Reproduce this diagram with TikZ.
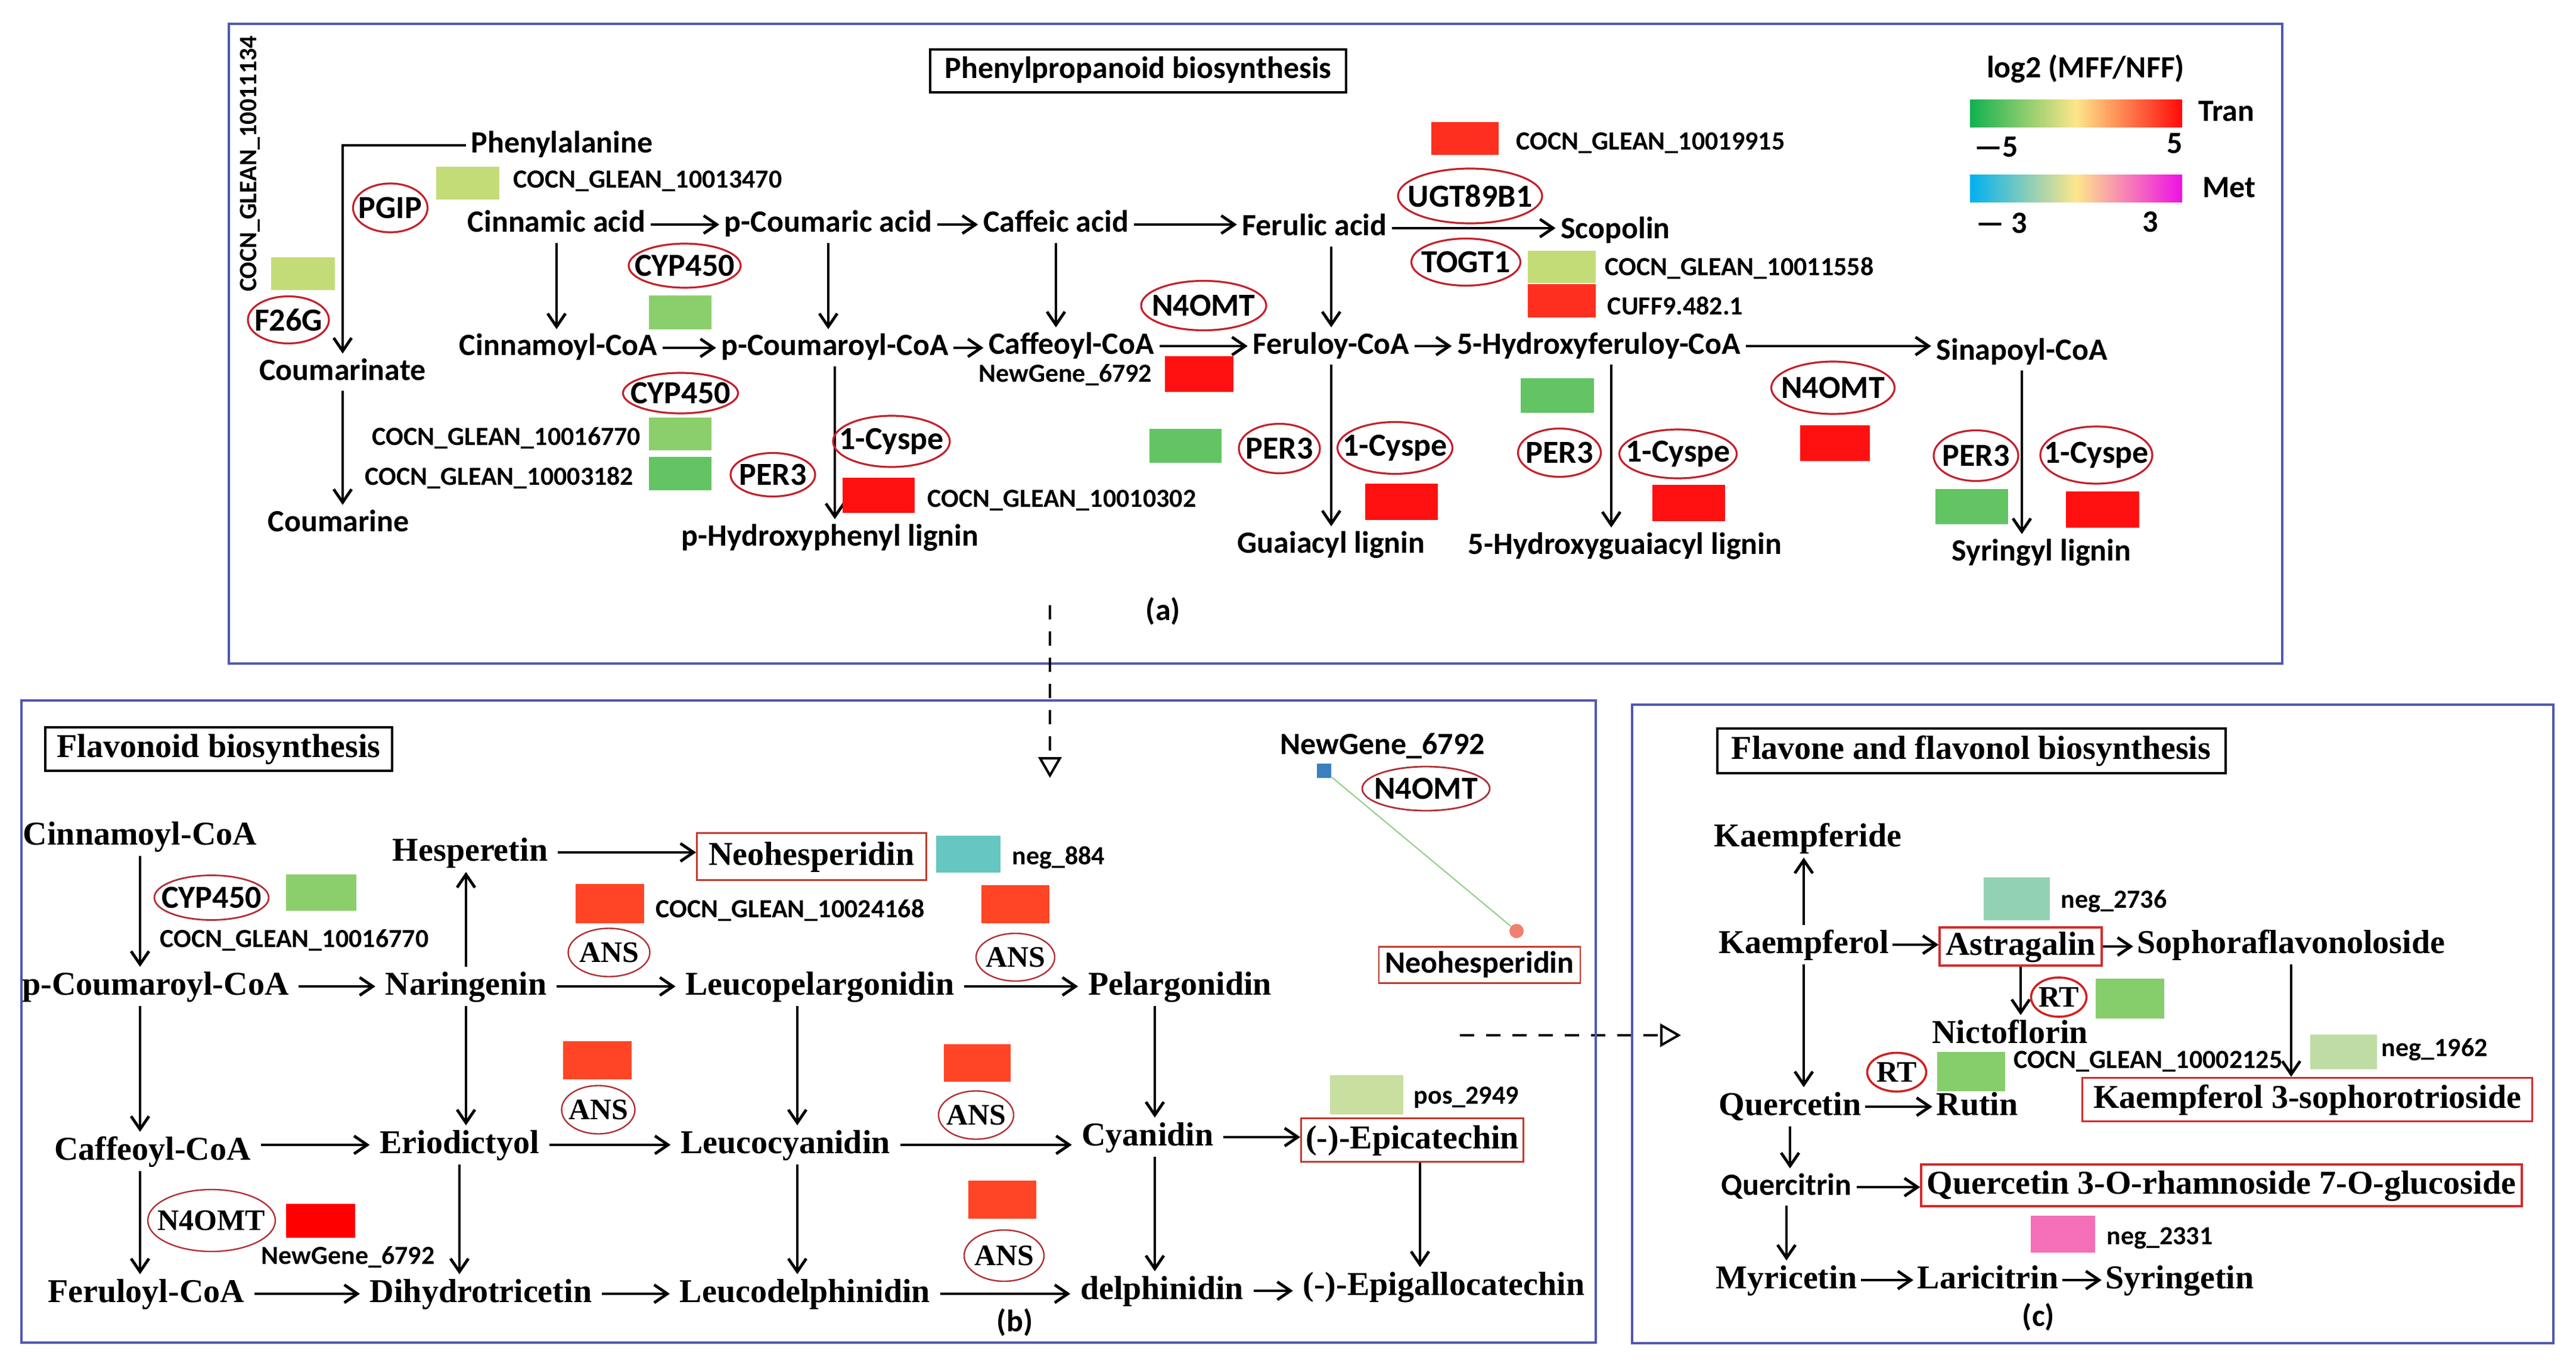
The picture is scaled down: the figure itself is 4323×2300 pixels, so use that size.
\documentclass[tikz,border=0pt]{standalone}
\usepackage{fontspec}
\setmainfont{Liberation Serif}
\newfontfamily\calibf{Carlito}
\usetikzlibrary{arrows.meta,calc}
\definecolor{frameblue}{HTML}{5058B0}
\definecolor{enzred}{HTML}{C4202A}
\definecolor{enzredB}{HTML}{B03035}
\definecolor{enzredC}{HTML}{D02020}
\definecolor{boxred}{HTML}{C0392B}
\definecolor{boxredC}{HTML}{D42A2A}
\definecolor{lgreen}{HTML}{C4DC78}
\definecolor{mgreen}{HTML}{8BCF6C}
\definecolor{dgreen}{HTML}{63C463}
\definecolor{hred}{HTML}{FF1010}
\definecolor{hred2}{HTML}{FF2F1F}
\definecolor{ored}{HTML}{FF4525}
\definecolor{teal}{HTML}{66C6C1}
\definecolor{olivel}{HTML}{C8DFA0}
\definecolor{tgreen}{HTML}{92D2B3}
\definecolor{cgreen}{HTML}{86CD6B}
\definecolor{clight}{HTML}{BEDCA4}
\definecolor{pinkb}{HTML}{F46FB6}
\definecolor{sqblue}{HTML}{3D7EBF}
\definecolor{salmon}{HTML}{F08072}
\definecolor{corrgreen}{HTML}{8DCF80}
\definecolor{tg1}{HTML}{10B050}
\definecolor{tg2}{HTML}{FDE68A}
\definecolor{tg3}{HTML}{FF0A0A}
\definecolor{mg1}{HTML}{00B0F0}
\definecolor{mg2}{HTML}{FDE68A}
\definecolor{mg3}{HTML}{EE10E6}
\tikzset{
  arr/.style={line width=1.2pt,-{Straight Barb[length=5.5pt,width=7.5pt,line width=1.2pt]}},
  dasharr/.style={line width=1pt,dash pattern=on 6pt off 5pt,-{Triangle[open,length=8.75pt,width=9.75pt,line width=1pt]}},
  frame/.style={draw=frameblue,line width=1pt},
  sa/.style={font=\calibf\bfseries\fontsize{13}{15}\selectfont,inner xsep=2pt,inner ysep=1.5pt,text height=9.4pt,text depth=2.9pt},
  sb/.style={font=\bfseries\fontsize{14}{16}\selectfont,inner xsep=4pt,inner ysep=1.5pt,text height=10pt,text depth=3pt},
  sc/.style={sb,inner xsep=1.5pt},
  gene/.style={font=\calibf\bfseries\fontsize{11}{13}\selectfont,inner sep=0pt},
  titleA/.style={sa,draw=black,line width=1pt,minimum width=174.5pt,minimum height=18pt},
  titleB/.style={sb,draw=black,line width=1pt,minimum width=145.5pt,minimum height=18.25pt},
  titleC/.style={sb,draw=black,line width=1pt,minimum width=213.25pt,minimum height=18.75pt},
  sbox/.style={sb,inner xsep=1pt,draw=boxred,line width=0.7pt},
  sboxc/.style={sb,inner xsep=1pt,draw=boxredC,line width=0.9pt},
  sabox/.style={sa,draw=boxred,line width=0.7pt},
  enzA/.style={font=\calibf\bfseries\fontsize{13.5}{15}\selectfont,inner sep=0pt},
  enzA ring/.style={draw=enzred,line width=0.8pt},
  enzB/.style={font=\bfseries\fontsize{12.5}{14}\selectfont,inner sep=0pt},
  enzB ring/.style={draw=enzredB,line width=0.6pt},
  enzBs/.style={enzA},
  enzBs ring/.style={draw=enzredB,line width=0.7pt},
  enzC/.style={font=\bfseries\fontsize{12.5}{14}\selectfont,inner sep=0pt},
  enzC ring/.style={draw=enzredC,line width=0.9pt},
  corr/.style={draw=corrgreen,line width=0.5pt}
}
\newcommand\enz[7]{\node[#1] (#2) at (#3,#4) {#7};
  \draw[#1 ring] (#2.center) ellipse [x radius=#5*0.125pt, y radius=#6*0.125pt];}
\newcommand\heat[5]{\fill[#1] (#2,#3) rectangle (#4,#5);}
\begin{document}
\begin{tikzpicture}[x=0.25pt,y=-0.25pt]
\useasboundingbox (0,0) rectangle (4323,2300);
\fill[white] (0,0) rectangle (4323,2300);
% ================= Panel A =================
\draw[frame] (384,40) rectangle (3830,1114);
\node[titleA] (ta) at (1910,119) {Phenylpropanoid biosynthesis};
\node[sa] (phe) at (943,244) {Phenylalanine};
\node[sa] (cinac) at (934,377) {Cinnamic acid};
\node[sa] (pcac) at (1390,377) {p-Coumaric acid};
\node[sa] (cafac) at (1772,377) {Caffeic acid};
\node[sa] (ferac) at (2206,383) {Ferulic acid};
\node[sa] (scop) at (2711,388) {Scopolin};
\node[sa] (cmt) at (575,625) {Coumarinate};
\node[sa] (cinco) at (937,584) {Cinnamoyl-CoA};
\node[sa] (pcco) at (1401,584) {p-Coumaroyl-CoA};
\node[sa] (cafco) at (1798,581) {Caffeoyl-CoA};
\node[sa] (ferco) at (2234,581) {Feruloy-CoA};
\node[sa] (hfco) at (2683,581) {5-Hydroxyferuloy-CoA};
\node[sa] (sinco) at (3393,591) {Sinapoyl-CoA};
\node[sa] (cmn) at (568,879) {Coumarine};
\node[sa] (phl) at (1393,903) {p-Hydroxyphenyl lignin};
\node[sa] (gl) at (2234,915) {Guaiacyl lignin};
\node[sa] (hgl) at (2727,917) {5-Hydroxyguaiacyl lignin};
\node[sa] (sl) at (3426,928) {Syringyl lignin};
\coordinate (colH) at (2704,600);
\draw[arr] (phe.west) -| (cmt.north);
\draw[arr] (cinac.east) -- (cinac.east -| pcac.west);
\draw[arr] (pcac.east) -- (pcac.east -| cafac.west);
\draw[arr] (cafac.east) -- (cafac.east -| ferac.west);
\draw[arr] (ferac.east) -- (ferac.east -| scop.west);
\draw[arr] (cinac.south) -- (cinac.south |- cinco.north);
\draw[arr] (pcac.south) -- (pcac.south |- pcco.north);
\draw[arr] (cafac.south) -- (cafac.south |- cafco.north);
\draw[arr] (ferco.north |- ferac.south) -- (ferco.north);
\draw[arr] (cinco.east) -- (cinco.east -| pcco.west);
\draw[arr] (pcco.east) -- (pcco.east -| cafco.west);
\draw[arr] (cafco.east) -- (cafco.east -| ferco.west);
\draw[arr] (ferco.east) -- (ferco.east -| hfco.west);
\draw[arr] (hfco.east) -- (hfco.east -| sinco.west);
\draw[arr] (cmt.south) -- (cmt.south |- cmn.north);
\draw[arr] (pcco.south) -- (pcco.south |- phl.north);
\draw[arr] (ferco.south) -- (ferco.south |- gl.north);
\draw[arr] (colH |- hfco.south) -- (colH |- hgl.north);
\draw[arr] (sinco.south) -- (sinco.south |- sl.north);
% enzymes A
\enz{enzA}{e1}{655}{349}{125}{82}{PGIP}
\enz{enzA}{e2}{484}{537}{136}{79}{F26G}
\enz{enzA}{e3}{1149}{446}{188}{74}{CYP450}
\enz{enzA}{e4}{1142}{660}{193}{68}{CYP450}
\enz{enzA}{e5}{1297}{797}{142}{73}{PER3}
\enz{enzA}{e6}{1496}{741}{196}{86}{1-Cyspe}
\enz{enzA}{e7}{2020}{513}{210}{83}{N4OMT}
\enz{enzA}{e8}{2147}{753}{136}{83}{PER3}
\enz{enzA}{e9}{2341}{752}{193}{87}{1-Cyspe}
\enz{enzA}{e10}{2467}{329}{242}{92}{UGT89B1}
\enz{enzA}{e11}{2460}{440}{183}{79}{TOGT1}
\enz{enzA}{e12}{2617}{760}{139}{81}{PER3}
\enz{enzA}{e13}{2816}{762}{197}{82}{1-Cyspe}
\enz{enzA}{e14}{3076}{651}{207}{88}{N4OMT}
\enz{enzA}{e15}{3316}{765}{142}{85}{PER3}
\enz{enzA}{e16}{3518}{764}{188}{96}{1-Cyspe}
% heat boxes A
\heat{lgreen}{732}{280}{838}{335}
\heat{lgreen}{455}{432}{562}{487}
\heat{mgreen}{1089}{496}{1194}{553}
\heat{mgreen}{1089}{701}{1194}{756}
\heat{dgreen}{1089}{767}{1194}{823}
\heat{hred}{1414}{802}{1535}{861}
\heat{hred2}{2402}{205}{2515}{260}
\heat{lgreen}{2564}{421}{2678}{475}
\heat{hred2}{2564}{477}{2678}{533}
\heat{hred}{1955}{598}{2070}{658}
\heat{dgreen}{1929}{720}{2050}{777}
\heat{hred}{2291}{812}{2413}{873}
\heat{dgreen}{2552}{635}{2675}{693}
\heat{hred}{2773}{814}{2895}{875}
\heat{hred}{3021}{714}{3138}{774}
\heat{dgreen}{3248}{821}{3370}{880}
\heat{hred}{3467}{825}{3590}{886}
% gene labels A
\node[gene,font=\calibf\bfseries\fontsize{10.5}{12}\selectfont,rotate=90] (g0) at (420,275) {COCN\_GLEAN\_10011134};
\node[gene,anchor=west] (g1) at (861,304) {COCN\_GLEAN\_10013470};
\node[gene,anchor=east] (g2) at (1076,736) {COCN\_GLEAN\_10016770};
\node[gene,anchor=east] (g3) at (1064,802) {COCN\_GLEAN\_10003182};
\node[gene,anchor=west] (g4) at (1556,840) {COCN\_GLEAN\_10010302};
\node[gene,anchor=west] (g5) at (2544,240) {COCN\_GLEAN\_10019915};
\node[gene,anchor=west] (g6) at (2693,450) {COCN\_GLEAN\_10011558};
\node[gene,anchor=west] (g7) at (2697,513) {CUFF9.482.1};
\node[gene,anchor=east] (g8) at (1934,630) {NewGene\_6792};
% legend
\node[sa] (lg) at (3500,118) {log2 (MFF/NFF)};
\shade[left color=tg1,right color=tg3,middle color=tg2] (3306,168) rectangle (3662,214);
\node[sa] (tran) at (3736,191) {Tran};
\node[sa] (m5) at (3350,251) {—5};
\node[sa] (p5) at (3650,245) {5};
\shade[left color=mg1,right color=mg3,middle color=mg2] (3306,294) rectangle (3662,340);
\node[sa] (met) at (3741,319) {Met};
\node[sa] (m3) at (3359,379) {— 3};
\node[sa] (p3) at (3609,377) {3};
\node[sa] (la) at (1952,1028) {(a)};
% dashed connectors
\coordinate (dA1) at (1762,1016);
\coordinate (dA2) at (1762,1306);
\draw[dasharr] (dA1) -- (dA2);
\coordinate (dB1) at (2450,1738);
\coordinate (dB2) at (2821,1738);
\draw[dasharr] (dB1) -- (dB2);
% ================= Panel B =================
\draw[frame] (36,1176) rectangle (2678,2254);
\node[titleB] (tb) at (367,1257) {Flavonoid biosynthesis};
\node[sb] (bcin) at (235,1404) {Cinnamoyl-CoA};
\node[sb] (hesp) at (789,1431) {Hesperetin};
\node[sbox,minimum width=96.25pt,minimum height=19.75pt] (neo) at (1362,1438) {Neohesperidin};
\node[sb] (bpc) at (261,1656) {p-Coumaroyl-CoA};
\node[sb] (nar) at (782,1656) {Naringenin};
\node[sb] (lpel) at (1376,1656) {Leucopelargonidin};
\node[sb] (pel) at (1980,1656) {Pelargonidin};
\node[sb] (bcaf) at (256,1933) {Caffeoyl-CoA};
\node[sb] (erio) at (771,1922) {Eriodictyol};
\node[sb] (lcya) at (1318,1922) {Leucocyanidin};
\node[sb] (cya) at (1926,1909) {Cyanidin};
\node[sbox,minimum width=93.25pt,minimum height=18.25pt] (epi) at (2370,1914) {(-)-Epicatechin};
\node[sb] (bfer) at (245,2172) {Feruloyl-CoA};
\node[sb] (dihy) at (807,2172) {Dihydrotricetin};
\node[sb] (ldel) at (1351,2172) {Leucodelphinidin};
\node[sb] (delph) at (1950,2167) {delphinidin};
\node[sb] (epig) at (2423,2160) {(-)-Epigallocatechin};
\node[sa] (lb) at (1703,2222) {(b)};
\coordinate (colL) at (1338,1600);
\coordinate (colP) at (1938,1600);
\coordinate (colE) at (2383,1600);
\draw[arr] (bcin.south) -- (bcin.south |- bpc.north);
\draw[arr] (bcin.south |- bpc.south) -- (bcin.south |- bcaf.north);
\draw[arr] (bcin.south |- bcaf.south) -- (bcin.south |- bfer.north);
\draw[arr] (bpc.east) -- (bpc.east -| nar.west);
\draw[arr] (nar.north) -- (nar.north |- hesp.south);
\draw[arr] (hesp.east) -- (hesp.east -| neo.west);
\draw[arr] (nar.east) -- (nar.east -| lpel.west);
\draw[arr] (lpel.east) -- (lpel.east -| pel.west);
\draw[arr] (nar.south) -- (nar.south |- erio.north);
\draw[arr] (bcaf.east |- erio.west) -- (erio.west);
\draw[arr] (erio.east) -- (erio.east -| lcya.west);
\draw[arr] (lcya.east) -- (lcya.east -| cya.west);
\draw[arr] (cya.east) -- (cya.east -| epi.west);
\draw[arr] (erio.south) -- (erio.south |- dihy.north);
\draw[arr] (colL |- lpel.south) -- (colL |- lcya.north);
\draw[arr] (colL |- lcya.south) -- (colL |- ldel.north);
\draw[arr] (colP |- pel.south) -- (colP |- cya.north);
\draw[arr] (colP |- cya.south) -- (colP |- delph.north);
\draw[arr] (colE |- epi.south) -- (colE |- epig.north);
\draw[arr] (bfer.east) -- (bfer.east -| dihy.west);
\draw[arr] (dihy.east) -- (dihy.east -| ldel.west);
\draw[arr] (ldel.east) -- (ldel.east -| delph.west);
\draw[arr] (delph.east) -- (delph.east -| epig.west);
% enzymes B
\enz{enzBs}{f1}{355}{1507}{192}{75}{CYP450}
\enz{enzB}{f2}{1022}{1599}{137}{81}{ANS}
\enz{enzB}{f3}{1004}{1863}{123}{81}{ANS}
\enz{enzB}{f4}{355}{2049}{214}{104}{N4OMT}
\enz{enzB}{f5}{1704}{1607}{132}{80}{ANS}
\enz{enzB}{f6}{1638}{1872}{126}{81}{ANS}
\enz{enzB}{f7}{1685}{2108}{134}{86}{ANS}
% heat boxes B
\heat{mgreen}{480}{1468}{598}{1529}
\heat{ored}{966}{1484}{1081}{1550}
\heat{teal}{1571}{1403}{1679}{1465}
\heat{ored}{1647}{1486}{1761}{1550}
\heat{ored}{945}{1748}{1060}{1812}
\heat{ored}{1584}{1753}{1696}{1816}
\heat{olivel}{2232}{1805}{2355}{1871}
\heat{ored}{1625}{1982}{1739}{2046}
\heat{red}{480}{2021}{596}{2078}
% labels B
\node[gene,anchor=west] (h1) at (268,1579) {COCN\_GLEAN\_10016770};
\node[gene,anchor=west] (h2) at (1100,1528) {COCN\_GLEAN\_10024168};
\node[gene,anchor=west] (h3) at (1698,1440) {neg\_884};
\node[gene,anchor=west] (h4) at (2372,1843) {pos\_2949};
\node[gene,anchor=west] (h5) at (438,2111) {NewGene\_6792};
% correlation inset
\node[sa] (ng) at (2320,1253) {NewGene\_6792};
\node[fill=sqblue,minimum size=6pt,inner sep=0pt] (nsq) at (2222,1294) {};
\node[circle,fill=salmon,minimum size=6pt,inner sep=0pt] (ncir) at (2545,1563) {};
\draw[corr] (nsq) -- (ncir);
\enz{enzBs}{f8}{2393}{1324}{214}{74}{N4OMT}
\node[sabox,minimum width=84.5pt,minimum height=15.25pt] (neo2) at (2483,1620) {Neohesperidin};
% ================= Panel C =================
\draw[frame] (2739,1183) rectangle (4285,2255);
\node[titleC] (tc) at (3308,1260) {Flavone and flavonol biosynthesis};
\node[sc] (kde) at (3034,1407) {Kaempferide};
\node[sc] (kol) at (3027,1586) {Kaempferol};
\node[sboxc,minimum width=68pt,minimum height=16pt] (ast) at (3391,1589) {Astragalin};
\node[sc] (soph) at (3845,1586) {Sophoraflavonoloside};
\node[sc] (nic) at (3373,1737) {Nictoflorin};
\node[sc] (que) at (3004,1858) {Quercetin};
\node[sc] (rut) at (3318,1858) {Rutin};
\node[sboxc,minimum width=188.75pt,minimum height=18.25pt] (k3s) at (3872,1846) {Kaempferol 3-sophorotrioside};
\node[sa] (qtr) at (2998,1993) {Quercitrin};
\node[sboxc,minimum width=252pt,minimum height=17.5pt] (q3r) at (3728,1990) {Quercetin 3-O-rhamnoside 7-O-glucoside};
\node[sc] (myr) at (2998,2149) {Myricetin};
\node[sc] (lar) at (3336,2149) {Laricitrin};
\node[sc] (syr) at (3658,2149) {Syringetin};
\node[sa] (lc) at (3421,2213) {(c)};
\draw[arr] (kol.north) -- (kol.north |- kde.south);
\draw[arr] (kol.east) -- (kol.east -| ast.west);
\draw[arr] (ast.east) -- (ast.east -| soph.west);
\draw[arr] (ast.south) -- (ast.south |- nic.north);
\draw[arr] (kol.south) -- (kol.south |- que.north);
\draw[arr] (soph.south) -- (soph.south |- k3s.north);
\draw[arr] (que.east) -- (que.east -| rut.west);
\draw[arr] (que.south) -- (que.south |- qtr.north);
\draw[arr] (qtr.east) -- (qtr.east -| q3r.west);
\draw[arr] (qtr.south) -- (qtr.south |- myr.north);
\draw[arr] (myr.east) -- (myr.east -| lar.west);
\draw[arr] (lar.east) -- (lar.east -| syr.west);
\enz{enzC}{r1}{3455}{1674}{93}{66}{RT}
\enz{enzC}{r2}{3183}{1800}{99}{65}{RT}
\heat{tgreen}{3329}{1473}{3440}{1545}
\heat{cgreen}{3517}{1643}{3632}{1710}
\heat{cgreen}{3251}{1766}{3365}{1832}
\heat{clight}{3877}{1737}{3989}{1795}
\heat{pinkb}{3408}{2041}{3516}{2103}
\node[gene,anchor=west] (k1) at (3458,1513) {neg\_2736};
\node[gene,anchor=west] (k2) at (3379,1782) {COCN\_GLEAN\_10002125};
\node[gene,anchor=west] (k3) at (3996,1762) {neg\_1962};
\node[gene,anchor=west] (k4) at (3535,2079) {neg\_2331};
\end{tikzpicture}
\end{document}
